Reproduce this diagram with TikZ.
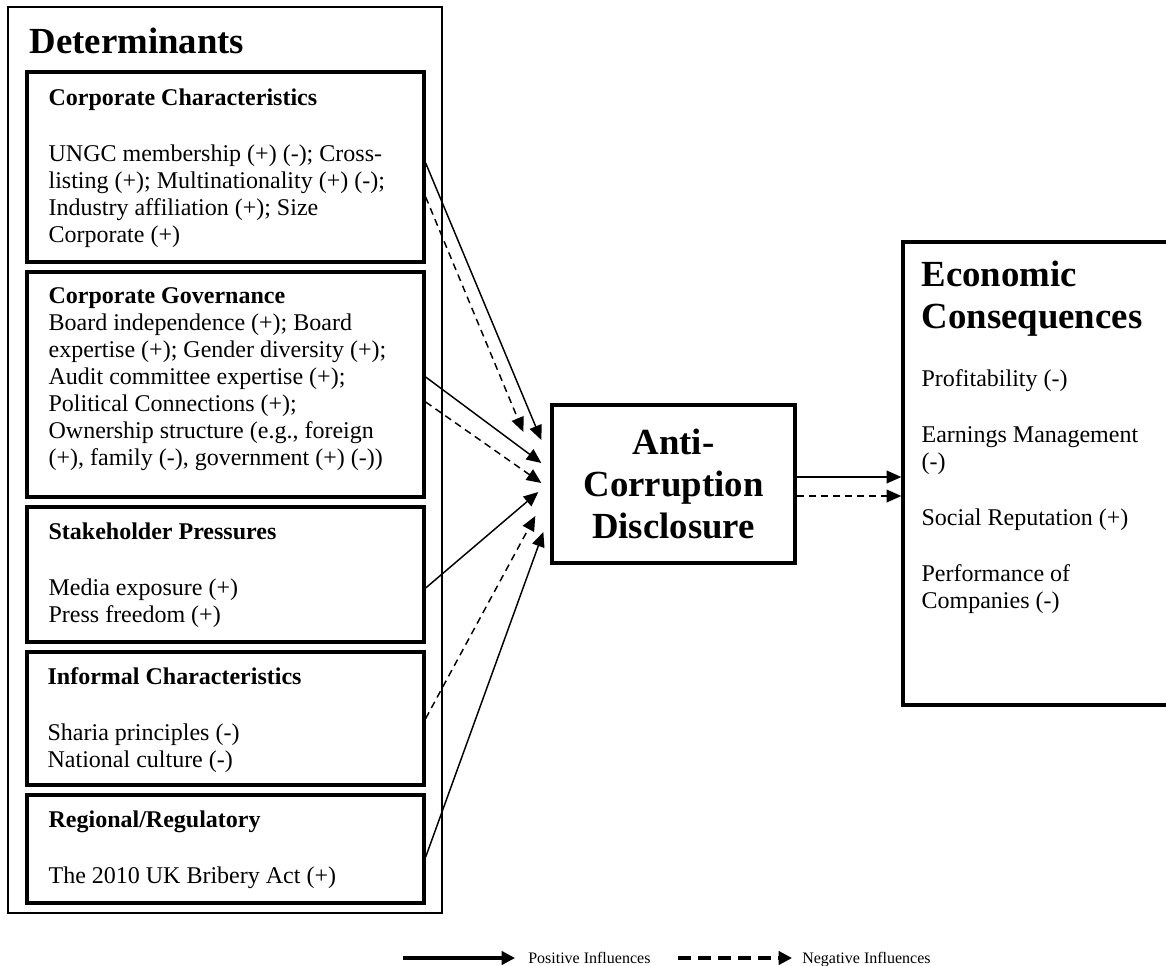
\documentclass[tikz,border=0pt]{standalone}
\usepackage{fontspec}
\setmainfont{Liberation Serif}
\usetikzlibrary{arrows.meta,calc}

\newcommand{\bodysize}{\fontsize{18}{20.25}\selectfont}
\newcommand{\bigsize}{\fontsize{27.6}{31.5}\selectfont}

\begin{document}
\begin{tikzpicture}[x=0.75pt, y=-0.75pt, line join=miter,
    >={Triangle[length=11pt, width=9.5pt]},
    outer/.style={draw, line width=1pt, inner sep=0pt},
    inbox/.style={draw, line width=2.5pt, inner sep=0pt, minimum width=297.75pt},
    txt/.style={align=left, inner sep=0pt, font=\bodysize, anchor=north west},
    head/.style={align=left, inner sep=0pt, font=\bigsize\bfseries, anchor=north west},
    posarrow/.style={->, line width=1.1pt},
    negarrow/.style={->, line width=1.1pt, dash pattern=on 5.25pt off 3.75pt},
    leg/.style={inner sep=0pt, font=\fontsize{12}{14}\selectfont, anchor=base west},
    legpos/.style={-{Triangle[length=10pt, width=10pt]}, line width=2.4pt},
    legneg/.style={-{Triangle[length=10pt, width=10pt]}, line width=2.4pt, dash pattern=on 9.75pt off 5.25pt}]

    \useasboundingbox (0,0) rectangle (1166,966);
    \clip (0,0) rectangle (1166,966);

    \node[outer, minimum width=325.5pt, minimum height=679.5pt] (det) at (225,460) {};
    \node[head] (dettxt) at ($(det.north west)+(22,21)$) {Determinants};

    \node[inbox, minimum height=142.5pt] (corp) at (225.5,167) {};
    \node[inbox, minimum height=168.75pt] (gov) at (225.5,384.5) {};
    \node[inbox, minimum height=101.25pt] (stake) at (225.5,574.5) {};
    \node[inbox, minimum height=99.75pt] (inf) at (225.5,718.5) {};
    \node[inbox, minimum height=81pt] (reg) at (225.5,849) {};

    \node[txt] (corptxt) at ($(corp.north west)+(23,18)$) {\textbf{Corporate Characteristics}\\[21.75pt]
        UNGC membership (+) (-); Cross-\\listing (+); Multinationality (+) (-);\\
        Industry affiliation (+); Size\\Corporate (+)};
    \node[txt] (govtxt) at ($(gov.north west)+(23,17)$) {\textbf{Corporate Governance}\\
        Board independence (+); Board\\expertise (+); Gender diversity (+);\\
        Audit committee expertise (+);\\Political Connections (+);\\
        Ownership structure (e.g., foreign\\(+), family (-), government (+) (-))};
    \node[txt] (staketxt) at ($(stake.north west)+(23,17)$) {\textbf{Stakeholder Pressures}\\[21.75pt]
        Media exposure (+)\\Press freedom (+)};
    \node[txt] (inftxt) at ($(inf.north west)+(22,17)$) {\textbf{Informal Characteristics}\\[21.75pt]
        Sharia principles (-)\\National culture (-)};
    \node[txt] (regtxt) at ($(reg.north west)+(23,17)$) {\textbf{Regional/Regulatory}\\[21.75pt]
        The 2010 UK Bribery Act (+)};

    \node[draw, line width=2.5pt, inner sep=0pt, minimum width=182.25pt, minimum height=118.5pt,
        align=center, font=\bigsize\bfseries] (acd) at (673.5,484) {Anti-\\Corruption\\Disclosure};

    \node[draw, line width=2.5pt, inner sep=0pt, minimum width=207.75pt, minimum height=347.25pt] (econ) at (1041.5,473.5) {};
    \node[head] (econhead) at ($(econ.north west)+(20,20)$) {Economic\\Consequences};
    \node[txt] (econtxt) at ($(econ.north west)+(20,128.5)$) {Profitability (-)\\[21.75pt]
        Earnings Management\\(-)\\[21.75pt]
        Social Reputation (+)\\[21.75pt]
        Performance of\\Companies (-)};

    \draw[posarrow] ($(corp.east)+(0,-4)$) -- ($(acd.west)+(-9,-44)$);
    \draw[negarrow] ($(corp.east)+(0,30)$) -- ($(acd.west)+(-27,-52)$);
    \draw[posarrow] ($(gov.east)+(0,-7.5)$) -- ($(acd.west)+(-9,-21)$);
    \draw[negarrow] ($(gov.east)+(0,17.5)$) -- ($(acd.west)+(-9,-1)$);
    \draw[posarrow] ($(stake.east)+(0,13.5)$) -- ($(acd.west)+(-12,8)$);
    \draw[negarrow] (inf.east) -- ($(acd.west)+(-15,32)$);
    \draw[posarrow] ($(reg.east)+(0,8)$) -- ($(acd.west)+(-7,48)$);

    \draw[posarrow] ($(acd.east)+(0,-7)$) -- ($(econ.west)+(0,3.5)$);
    \draw[negarrow] ($(acd.east)+(0,12)$) -- ($(econ.west)+(0,22.5)$);

    \coordinate (posstart) at (403,958);
    \node[leg] (postxt) at (528,963) {Positive Influences};
    \draw[legpos] (posstart) -- ($(posstart -| postxt.west)+(-13,0)$);
    \coordinate (negstart) at (678,958);
    \node[leg] (negtxt) at (802,963) {Negative Influences};
    \draw[legneg] (negstart) -- ($(negstart -| negtxt.west)+(-10,0)$);
\end{tikzpicture}
\end{document}
